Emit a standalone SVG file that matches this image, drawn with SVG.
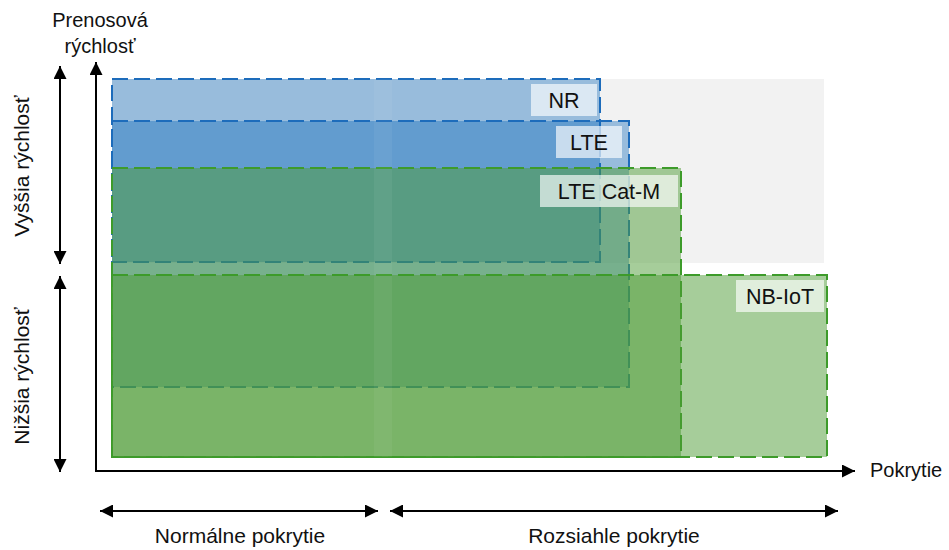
<svg xmlns="http://www.w3.org/2000/svg" width="949" height="550" viewBox="0 0 949 550">
<defs>
<marker id="ah" markerUnits="userSpaceOnUse" markerWidth="13" markerHeight="13" refX="12" refY="6" orient="auto-start-reverse" viewBox="0 0 12 12">
<path d="M0,0 L12,6 L0,12 z" fill="#000"/>
</marker>
<style>
text{font-family:"Liberation Sans",Arial,sans-serif;font-size:20px;fill:#111}
.blue{fill:rgb(17,107,187);fill-opacity:0.4;stroke:#1d6cbb;stroke-width:2;stroke-dasharray:16 6}
.green{fill:rgb(77,155,53);fill-opacity:0.5;stroke:#3d9b2a;stroke-width:2;stroke-dasharray:16 6}
.lbl{fill:#fff;fill-opacity:0.65}
.lt{font-size:21.5px}
.bt{font-size:21px}
.ax{stroke:#000;stroke-width:2;fill:none}
.c{text-anchor:middle}
</style>
</defs>
<rect width="949" height="550" fill="#fff"/>
<g id="high-zone"><rect x="112" y="79" width="712" height="184" fill="#f2f2f2"/></g>
<g id="nr"><rect class="blue" x="112" y="79" width="488" height="183"/></g>
<g id="lte"><rect class="blue" x="112" y="121" width="517" height="266"/></g>
<g id="lte-cat-m"><rect class="green" x="112" y="168" width="569" height="289"/></g>
<g id="nb-iot"><rect class="green" x="112" y="275" width="715" height="182"/></g>
<rect x="374" y="79" width="18" height="378" fill="#fff" fill-opacity="0.05"/>
<g id="nr-label"><rect class="lbl" x="531" y="84" width="66" height="32"/><text class="c lt" x="564" y="108">NR</text></g>
<g id="lte-label"><rect class="lbl" x="556" y="126" width="66" height="32"/><text class="c lt" x="589" y="150">LTE</text></g>
<g id="catm-label"><rect class="lbl" x="540" y="175" width="138" height="32"/><text class="c lt" x="609" y="199">LTE Cat-M</text></g>
<g id="nb-label"><rect class="lbl" x="736" y="280" width="88" height="32"/><text class="c lt" x="780" y="304">NB-IoT</text></g>
<g id="connectors">
<polyline class="ax" points="96,62 96,471 855,471" marker-start="url(#ah)" marker-end="url(#ah)"/>
<line class="ax" x1="60" y1="66" x2="60" y2="264" marker-start="url(#ah)" marker-end="url(#ah)"/>
<line class="ax" x1="60" y1="276" x2="60" y2="472" marker-start="url(#ah)" marker-end="url(#ah)"/>
<line class="ax" x1="100" y1="511" x2="378" y2="511" marker-start="url(#ah)" marker-end="url(#ah)"/>
<line class="ax" x1="390" y1="511" x2="838" y2="511" marker-start="url(#ah)" marker-end="url(#ah)"/>
</g>
<g id="axis-labels">
<text class="c" x="100" y="27">Prenosová</text>
<text class="c" x="100" y="53">rýchlosť</text>
<text x="870" y="477">Pokrytie</text>
<text class="c bt" transform="translate(29,166) rotate(-90)">Vyššia rýchlosť</text>
<text class="c bt" transform="translate(29,376) rotate(-90)">Nižšia rýchlosť</text>
<text class="c bt" x="240" y="543">Normálne pokrytie</text>
<text class="c bt" x="614" y="543">Rozsiahle pokrytie</text>
</g>
</svg>
